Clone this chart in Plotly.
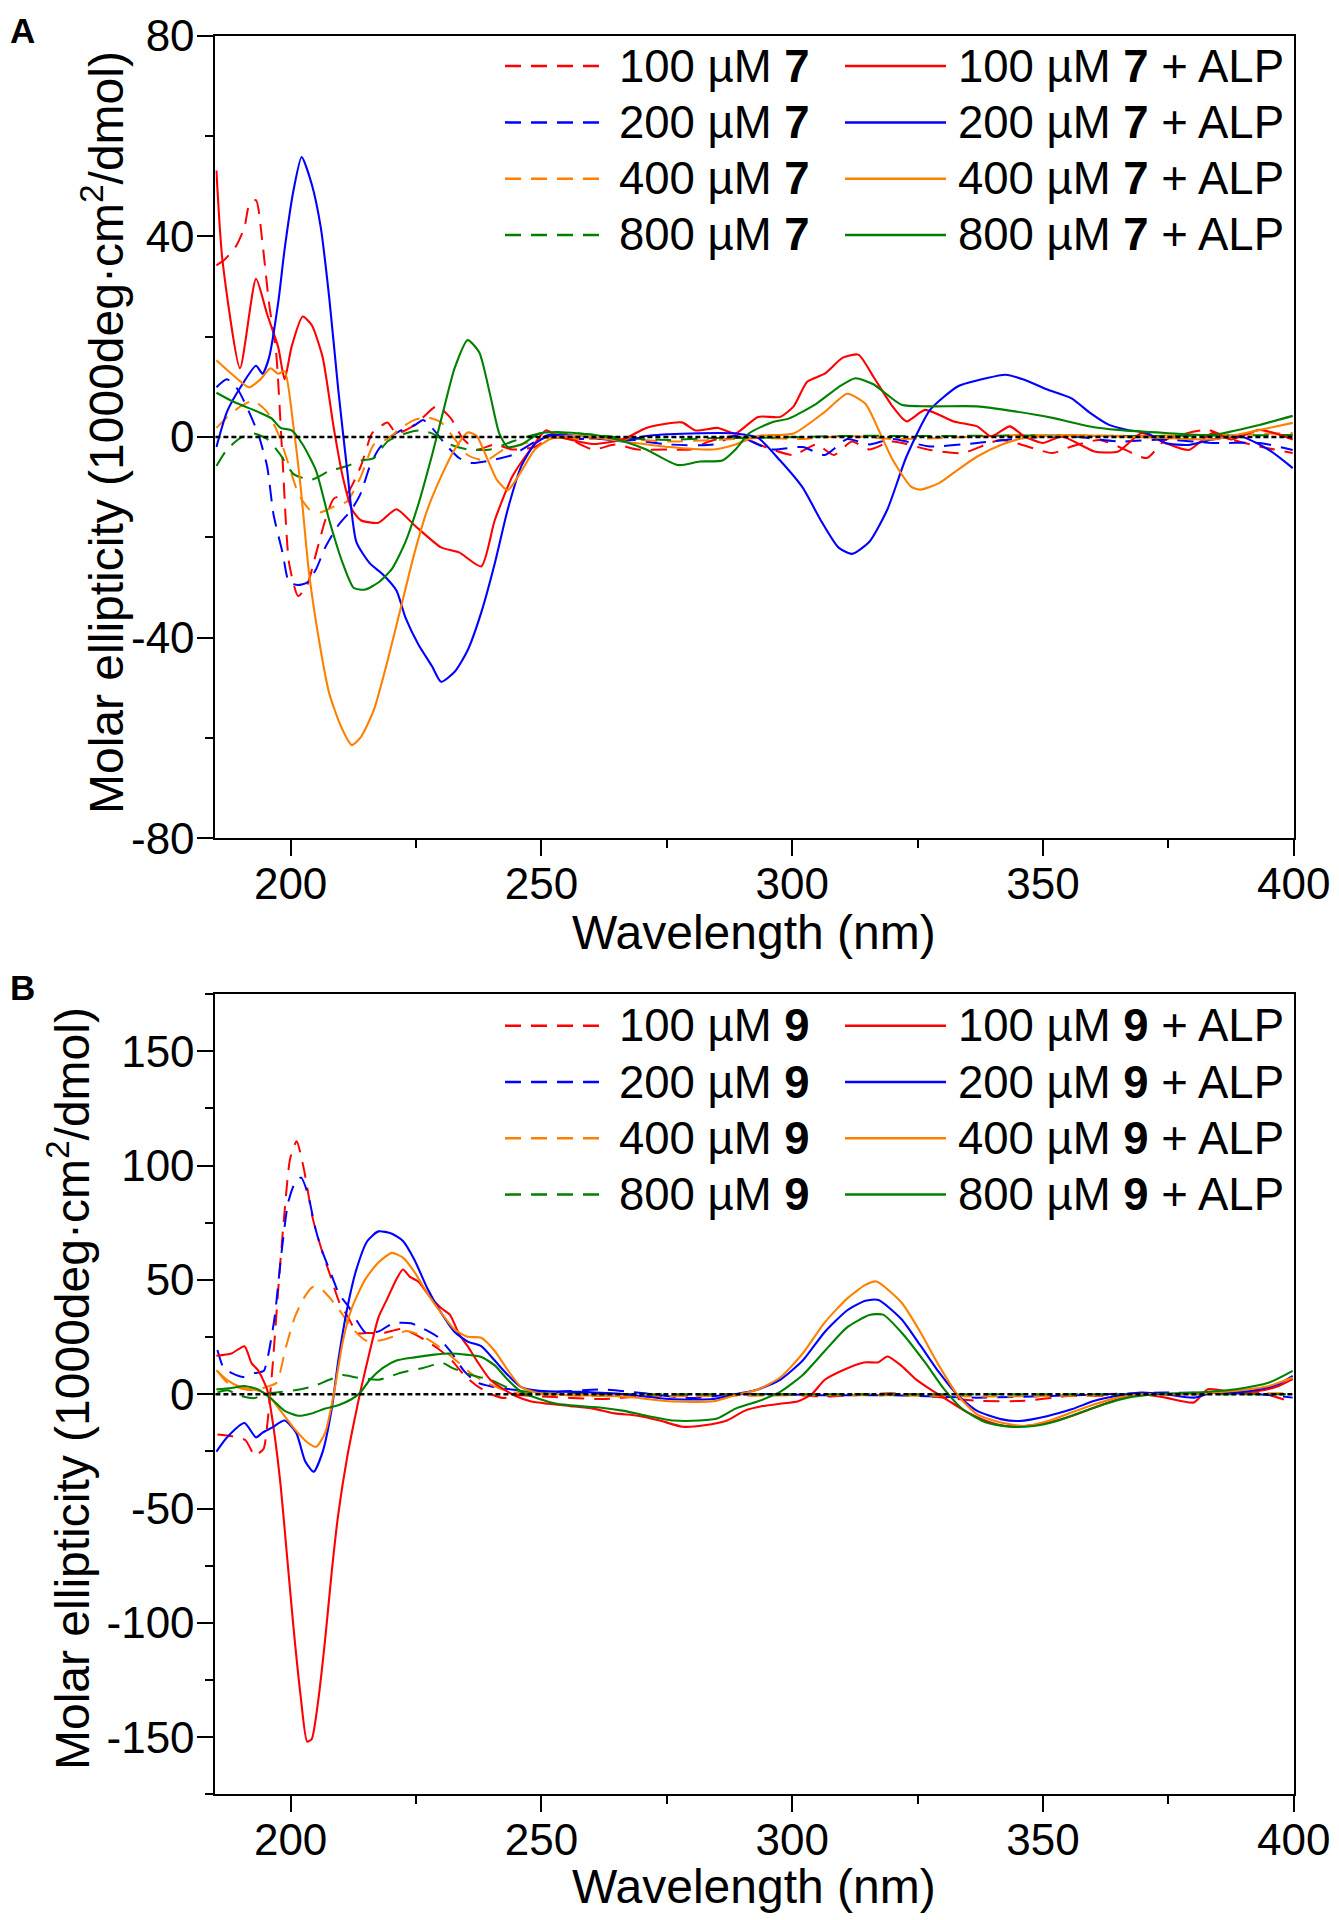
import plotly.graph_objects as go

# ---------------- DATA ----------------
# Panel A : compound 7
a7_100_x = [185.2,186.8,189.1,190.8,191.7,193.1,194.4,195.7,197.1,198.4,199.7,201.5,203.3,205.1,206.9,208.6,211.3,214,216.2,217.5,219.3,221.1,223.8,226.4,229.1,231.8,234.4,237.1,240.7,244.2,248.7,251.4,254.9,260.3,264.7,269.2,275.4,279.8,283.4,288.7,295.9,300.3,304.8,308.3,311.9,315.4,319.9,327.5,334,341.6,351.9,355.7,361.3,365,370.7,374.4,382.9,387.6,393.2,399.8]
a7_100_y = [34.2,35.3,38,41.8,46.1,47.2,38.5,26.6,16.9,-4.7,-25.2,-31.7,-29.5,-23.1,-16.6,-12.3,-11.2,-5.8,0.7,1.8,2.9,0.7,1.8,3.9,6.1,3.9,-0.4,-2.5,-1.5,-2.5,-2,-0.4,-0.2,-2.5,-1.5,-2.5,-2.5,-2.5,-0.9,0.2,-2.5,-3.6,-1.5,-3.6,-0.9,-2.5,-0.9,-2.6,-3.2,-0.6,-3.2,-1.9,-0.6,-1.9,-4.2,-0.6,1.4,-0.5,-1.9,-3.2]

a7_200_x = [185.2,187.3,189.5,191.7,193.5,195.3,196.6,198.4,199.7,201.5,203.3,205.1,206.9,209.5,212.2,214,215.8,217.5,219.3,222,224.7,226.4,228.2,230.9,233.6,236.2,239.8,244.2,247.8,251.4,257.6,266.5,275.4,284.3,288.7,295.9,302.1,306.5,311,315.4,319.9,327.5,336.9,346.3,355.7,365,374.4,383.8,393.2,399.8]
a7_200_y = [9.9,11.5,9.4,5,0.7,-5.8,-15.5,-23.1,-29,-29.5,-29,-26.3,-22,-17.6,-14.4,-11.2,-5.8,-2.5,-0.4,1.3,2.3,3.4,1.8,-1.5,-4.2,-5.2,-4.7,-3.6,-1.5,0.4,-0.4,-0.4,-1.5,-1.5,0.2,-2.5,-2,-3.6,-0.4,-1.5,-0.4,-1.9,-1.2,-0.2,0.1,-0.9,-0.5,-1.2,-1.2,-2.6]

a7_400_x = [185.2,187.3,190,192.6,195.3,197.5,199.7,201.5,203.7,206,208.6,211.3,214,216.6,219.3,222,224.7,227.3,230,232.7,235.3,238.9,242.5,246,250.5,257.6,266.5,275.4,284.3,293.2,302.1,311,319.9,330,346,360,375,390,399.8]
a7_400_y = [1.8,3.9,6.1,7.2,5,0.7,-5.8,-11.2,-14.4,-15,-13.9,-12.8,-7.9,-1.5,-0.4,1.8,3.4,3.9,2.9,-0.4,-3.6,-4.7,-2.5,-1.5,-0.2,-0.4,-0.4,-0.9,-0.6,-0.2,-0.4,0.2,-0.4,-0.2,0.4,0.2,0.3,0.5,0.8]

a7_800_x = [185.2,187.3,190,192.6,195.3,198,200.6,204.2,207.7,211.3,214,216.6,219.3,222.9,225.5,228.2,231.8,235.3,239.8,244.2,249.6,257.6,266.5,275.4,284.3,293.2,310,330,350,370,390,399.8]
a7_800_y = [-5.8,-2.5,-0.2,0.7,-0.4,-3.6,-7.4,-8.5,-6.8,-5.8,-4.7,-4.2,-0.9,0.7,1.3,0.7,-1.5,-2.5,-2.5,-0.9,0.7,0.7,-0.2,-0.6,-0.2,-0.2,0.2,0.2,0.3,0.2,0.3,0.4]

a7_100alp_x = [185.2,186.4,189.9,193.1,195.3,197.5,198.8,200.2,202.4,204.2,206.4,208.6,210.4,212.2,214,217.5,221.1,224.7,230,233.6,238,240.7,244.2,247.8,250.9,253.1,260.3,266.5,270.9,278,280.7,285.2,288.7,293.2,297.6,300.3,303,306.5,310.1,313.2,316.2,320,322.8,326.5,332.2,336.9,339.7,343.4,346.3,350,353.8,360.3,365,369.7,374.4,379.1,383.8,387.6,393.2,399.8]
a7_100alp_y = [53.1,35.3,13.7,31.5,24.5,18,11.5,18,24,22.3,15.8,1.8,-8,-14.4,-16.6,-17.1,-14.4,-17.6,-22,-23,-25.8,-16.6,-7.9,-2.5,1.3,0.2,-1.4,-0.4,1.8,2.9,1.3,1.8,0.7,4,4,6.1,11,12.6,15.8,16.4,12,6.1,3.1,5.4,3.1,2.1,0.1,2.1,0.1,-1.2,0.1,-2.9,-2.9,0.8,-1.2,-2.6,0.8,-0.5,1.4,-0.5]

a7_200alp_x = [185.2,187.3,190,193.1,194.4,195.7,197.5,198.8,200.6,202.2,204.2,206,207.7,209.5,211.3,213.1,215.8,218.4,221.1,222.9,225.5,228.2,230,232.7,235.3,238,240.7,243.3,246,248.7,251.4,257.6,262,266.5,270.9,279.8,288.7,293.2,297.6,302.1,305.7,309.2,311.9,315.4,319,322.8,327.5,333.1,338.7,342.5,346.3,351,355.7,359.4,363.2,366.9,370.7,374.4,379.1,383.8,389.5,395.1,399.8]
a7_200alp_y = [-2,5,9.9,14.2,12.6,15.8,26.6,37.4,49.3,55.8,50.4,41.8,27.7,9.4,-6.8,-20.9,-25.2,-27.4,-30.6,-36,-41.4,-45.7,-48.8,-46.8,-42.5,-35,-25.2,-14.4,-5.8,-1.4,0.2,0.2,-0.4,-0.9,0.2,0.7,0.7,-0.2,-4.7,-10.1,-16.6,-22,-23.3,-20.9,-14.4,-3.9,5.4,10.1,11.7,12.4,11.4,9.4,7.7,4.8,2.4,1.4,0.8,-1.2,-1.6,-0.5,0.1,-2.6,-6.2]

a7_400alp_x = [185.2,188.2,191.7,194,196,197.5,198.8,200.6,202,203.7,206,207.7,210,212.2,214,216.6,219.3,222,224.7,227.3,230,232.7,235.3,237.1,238.9,241.1,243.3,246,248.7,252.2,257.6,266.5,275.4,284.3,288.7,293.2,300.3,306.5,311,314.6,317.2,320,323.7,325.6,329.3,333.1,336.9,341.6,346.3,355.7,365,374.4,383.8,388.5,393.2,399.8]
a7_400alp_y = [15.3,12.6,9.9,11.5,13.7,12.6,13.1,1.8,-10,-27.4,-42.5,-51.1,-57.6,-61.4,-59.8,-54.4,-44.7,-33.9,-23.1,-14.4,-7.9,-2.5,0.9,0.2,-3.6,-8.5,-10.6,-6.8,-2.5,-0.2,0.2,-0.9,-2,-2.5,-1.5,0.2,0.7,5,8.6,6.6,1.5,-4.5,-9.9,-10.5,-9.2,-6.5,-3.9,-1.6,-0.2,0.4,0.1,-0.2,-0.5,0.4,1.4,2.8]

a7_800alp_x = [185.2,188.2,190.8,193.5,196.2,198,200.2,202.4,205.1,207.7,210.4,212.6,214.9,217.5,220.2,222.9,225.5,228.2,230.4,232.7,235.3,237.6,239.8,241.6,243.3,246,249.6,253.1,257.6,262,266.5,270.9,277.2,281.6,286.1,288.7,291.4,295.9,299.4,304.8,309.2,312.6,316.2,321.8,327.5,336.9,344.4,351.9,359.4,365,374.4,383.8,393.2,399.8]
a7_800alp_y = [8.8,7.2,6.1,5,3.7,1.8,1.3,-1.5,-6.8,-16.6,-25.2,-30.1,-30.4,-29,-26.3,-20.9,-13.3,-3.6,5,13.7,19.3,16.9,8.3,0.7,-2,-1.5,0.7,1,0.7,0.2,-0.9,-2.5,-5.6,-4.9,-4.7,-2.5,0.7,2.9,3.7,6.6,9.9,11.7,10.5,6.4,6.1,6.1,5.1,3.8,2.1,1.4,0.8,0.4,2.4,4.2]

# Panel B : compound 9
b9_100_x = [185.4,188.3,191,192.8,193.5,194.6,195.5,196.5,197.5,198.6,199.9,201.2,202.6,204.4,206.1,207.9,209.7,211.5,213.3,215.9,218.6,222.2,225.7,229.3,232,234.6,237.3,240,242.6,244.2,250,262,270,280,290,297.6,306.5,319.9,328,336.9,346.3,355.7,365,374.4,383.8,393.2,399.8]
b9_100_y = [-17.6,-18.4,-20.1,-26.8,-26,-24,-10,15,45,75,103,110.6,98.9,77,63.7,51.9,40.2,33.5,26.8,26.8,26.8,28.5,25.1,20.1,15.1,8.4,3.4,0,-1.7,-0.4,-1,-2.1,-1,-0.5,0,0,-1,0.4,-1,-2.9,-2.9,-0.7,-0.7,0,0.7,0.7,-3.6]

b9_200_x = [185.4,186.6,188.3,190.6,192.8,194.6,195.5,196.8,198.1,199.5,200.8,202.1,203.5,204.8,206.1,207.9,209.7,211.5,213.3,215,217.7,220.4,224,226.6,229.3,232,234.6,237.3,240,242.6,245.3,253.1,262,270,279.8,288.7,297.6,306.5,319.9,336.9,355.7,374.4,393.2,399.8]
b9_200_y = [19.3,11.7,9.2,7.5,9.2,10.1,16.8,33.5,60.3,83.8,92.2,94.7,87.1,73.7,63.7,53.6,43.6,38.5,31.8,26.8,27.6,31,31,28.5,25.1,18.4,10.1,5,3.4,2.5,1.7,1,2.1,0.5,-1.7,0,0,-0.5,-0.5,-1.5,-0.5,0.7,0,-1.5]

b9_400_x = [185.4,187.4,190.1,192.8,195.5,197.2,199,200.8,202.6,204.4,206.1,207.9,209.7,212.4,215,217.7,220.4,223,225.7,228.4,231,233.7,236.4,239.1,241.7,244.4,255,270,285,300,320,340,360,380,399.8]
b9_400_y = [10.1,5,2.5,1.7,3.4,5,20.1,33.5,41.9,46.9,46.1,41.9,36.9,28.5,23.5,23.5,25.1,27.6,26,22.6,18.4,13.4,8.4,5,2.5,0.8,-0.5,-1,-0.8,-0.5,-0.5,-1,-0.5,0,0.5]

b9_800_x = [185.4,187.4,190.1,192.8,194.6,197.2,200.8,204.4,207.7,210.4,213.1,217.5,222,226.4,230.4,232.2,236,239.8,244.2,250,270,300,330,360,399.8]
b9_800_y = [0.8,1.7,-0.8,-1.7,0,0.8,1.7,3.4,6.3,8.4,7.3,6.3,9.4,11.5,13.6,11.5,8.4,6.3,2.1,0.5,0,0,0,0,0]

b9_100alp_x = [185.2,188.2,190.8,192.2,193.5,195.3,196.6,198,199.3,200.6,202,203.3,204.2,205.5,206.9,208.2,209.5,211.3,212.6,214,215.8,217.5,219.3,221.1,222.4,223.8,225.5,227.3,230,231.8,233.6,235.3,237.1,239.8,242.5,245.1,247.8,251.4,255.8,260.3,264.7,269.2,273.6,278.1,282.5,287,290.5,294.1,297.6,301.2,303.9,306.5,310.1,314.3,317.2,319,321.8,324.6,327.5,331.2,335,338.7,342.5,346.3,351,355.7,360.3,365,369.7,374.4,380.1,382.9,388.5,393.2,397,399.8]
b9_100alp_y = [16.8,17.8,21,13.6,10.5,2.1,-14.7,-39.8,-71.2,-102.7,-132,-151.9,-150.8,-134,-106.8,-77.5,-52.4,-27.2,-12.6,2.1,18.9,33.5,41.9,50.3,54.5,51.3,49.2,44,37.7,34.6,26.2,21,14.7,6.3,2.1,-1,-3.1,-4.2,-5.2,-6.3,-8.4,-9.4,-11.5,-14.2,-13.6,-11.5,-7.3,-5.2,-4.2,-3.1,0,6.3,10.5,13.9,14,16.5,12.4,6.6,2.2,-2.9,-8,-11.7,-13.9,-13.9,-12.4,-9.5,-5.8,-2.2,0,-1.5,-3.6,2.2,0.7,1.5,3.6,6.6]

b9_200alp_x = [185.2,187.3,190.8,193.1,194.4,196.2,198.8,201.1,202.9,204.6,206.4,208.2,209.5,211.3,213.1,215.3,217.5,220.2,222.4,224.7,227.3,230,232.7,235.3,238,240.7,243.3,246,249.6,257.6,266.5,275.4,284.3,288.7,293.2,297.6,302.1,306.5,311,314.6,317.2,321.8,325.6,329.3,333.1,336.9,341.6,345.3,351,355.7,360.3,365,369.7,374.4,380.1,383.8,388.5,393.2,397,399.8]
b9_200alp_y = [-25.1,-18.9,-12.6,-18.9,-16.8,-14.7,-11.5,-16.8,-29.3,-33.9,-25.1,-6.3,14.7,37.7,54.5,67,71.2,70.2,67,58.7,46.1,35.6,27.2,23,21,14.7,8.4,3.1,1.5,1,0,-2.1,-2.1,0,2.1,6.3,14.7,27.2,36.7,40.9,41.2,32.8,21.2,9.5,-0.7,-7.3,-10.9,-11.7,-9.5,-6.6,-2.9,-0.7,0.7,0,-1.5,0.7,0.7,2.2,4.4,8]

b9_400alp_x = [185.2,187.3,190,192.6,195.3,198,200.6,203.3,205.1,206.9,208.6,210.4,212.2,214.9,217.5,220.2,222.4,224.7,227.3,230,232.7,235.3,238,240.7,243.3,246,249.6,257.6,266.5,275.4,284.3,288.7,293.2,297.6,302.1,306.5,311,314.6,316.8,321.8,325.6,329.3,333.1,336.9,341.6,346.3,351,355.7,360.3,365,369.7,379.1,388.5,395.1,399.8]
b9_400alp_y = [10.5,6.3,3.1,2.1,0,-7.3,-14.7,-21,-23,-16.8,0,23,37.7,50.3,57.6,61.8,59.7,53.4,44,35.6,28.3,25.1,24.7,18.9,10.5,3.1,0.4,-0.4,-1,-3.1,-3.1,-0.4,2.1,7.3,17.8,31.4,41.9,47.8,49.3,40.1,27,12.4,-0.7,-8.8,-12.4,-13.9,-11.7,-8,-4.4,-1.5,0,0,1.5,3.6,7.3]

b9_800alp_x = [185.2,188.2,190.8,193.5,196.2,198.8,201.5,204.2,206.9,209.5,212.2,214,215.8,218.4,221.1,224.7,228.2,231.8,235.3,238,240.7,243.3,246,249.6,253.1,257.6,262,266.5,270.9,276.3,281.6,285.2,288.7,293.2,297.6,302.1,306.5,311,315.4,318.1,321.8,326.5,330.3,334,338.7,343.4,348.1,352.8,357.5,362.2,366.9,372.6,380.1,388.5,395.1,399.8]
b9_800alp_y = [2.1,2.7,3.6,2.1,-2.1,-7.3,-9.4,-8.4,-6.3,-4.8,-2.1,1,6.3,11.5,14.7,16.1,17.2,17.8,17.2,16.3,12.6,6.3,1,-2.1,-4.2,-5.2,-5.9,-7.3,-9.4,-11.5,-11.5,-10.5,-6.3,-3.1,1,8.4,18.9,29.3,34.6,34.8,27,13.9,2.2,-6.6,-12.4,-14.2,-13.9,-11.7,-8,-4.4,-1.5,0,0.7,2.2,5.1,10.2]

# Tick values and labels
x_ticks = [200, 250, 300, 350, 400]
x_ticklabels = ["200", "250", "300", "350", "400"]
a_yticks = [-80, -40, 0, 40, 80]
a_yticklabels = ["-80", "-40", "0", "40", "80"]
b_yticks = [-150, -100, -50, 0, 50, 100, 150]
b_yticklabels = ["-150", "-100", "-50", "0", "50", "100", "150"]

concentrations = ["100", "200", "400", "800"]

# ---------------- STYLE ----------------
COLORS = ["#FF0000", "#0000FF", "#FF8000", "#008000"]
DASH = "16px,10px"
FONT = "Liberation Sans, Arial, sans-serif"
OFF = 8            # page body margin offset
W, H = 1325, 1912

def px_x(p):
    return (p - OFF) / W

def px_y(p):
    return 1 - (p - OFF) / H

XD = [px_x(215.4), px_x(1293.7)]
A_DOM = [px_y(838.4), px_y(35.5)]
B_DOM = [px_y(1794.4), px_y(994.0)]

fig = go.Figure()

panelA_dashed = [(a7_100_x, a7_100_y), (a7_200_x, a7_200_y), (a7_400_x, a7_400_y), (a7_800_x, a7_800_y)]
panelA_solid = [(a7_100alp_x, a7_100alp_y), (a7_200alp_x, a7_200alp_y), (a7_400alp_x, a7_400alp_y), (a7_800alp_x, a7_800alp_y)]
panelB_dashed = [(b9_100_x, b9_100_y), (b9_200_x, b9_200_y), (b9_400_x, b9_400_y), (b9_800_x, b9_800_y)]
panelB_solid = [(b9_100alp_x, b9_100alp_y), (b9_200alp_x, b9_200alp_y), (b9_400alp_x, b9_400alp_y), (b9_800alp_x, b9_800alp_y)]

def add_panel(dashed, solid, cmpd, xa, ya):
    for i, (x, y) in enumerate(dashed):
        fig.add_trace(go.Scatter(x=x, y=y, mode="lines", xaxis=xa, yaxis=ya,
                                 name=f"{concentrations[i]} µM {cmpd}", showlegend=False,
                                 line=dict(color=COLORS[i], width=2, dash=DASH,
                                           shape="spline", smoothing=0.6)))
    for i, (x, y) in enumerate(solid):
        fig.add_trace(go.Scatter(x=x, y=y, mode="lines", xaxis=xa, yaxis=ya,
                                 name=f"{concentrations[i]} µM {cmpd} + ALP", showlegend=False,
                                 line=dict(color=COLORS[i], width=2.1, shape="spline", smoothing=0.6)))

add_panel(panelA_dashed, panelA_solid, "7", "x", "y")
add_panel(panelB_dashed, panelB_solid, "9", "x2", "y2")

tickfont = dict(family=FONT, size=44, color="black")
common_x = dict(range=[185, 400], tickvals=x_ticks, ticktext=x_ticklabels, ticks="outside",
                ticklen=16, tickwidth=2, tickcolor="black", showline=True, linewidth=2,
                linecolor="black", mirror=True, showgrid=False, zeroline=False,
                tickfont=tickfont, domain=XD, automargin=False, ticklabelstandoff=-10,
                minor=dict(dtick=25, tick0=0, ticks="outside", ticklen=8, tickwidth=2, tickcolor="black"))
common_y = dict(ticks="outside", ticklen=16, tickwidth=2, tickcolor="black", showline=True,
                linewidth=2, linecolor="black", mirror=True, showgrid=False, zeroline=False,
                tickfont=tickfont, automargin=False, ticklabelstandoff=-6)

fig.update_layout(
    width=W, height=H, paper_bgcolor="white", plot_bgcolor="white",
    margin=dict(l=0, r=0, t=0, b=0, autoexpand=False), showlegend=False,
    font=dict(family=FONT, color="black"),
    xaxis=dict(common_x, anchor="y"),
    yaxis=dict(common_y, range=[-80, 80], tickvals=a_yticks, ticktext=a_yticklabels, domain=A_DOM, anchor="x",
               minor=dict(dtick=20, tick0=0, ticks="outside", ticklen=8, tickwidth=2, tickcolor="black")),
    xaxis2=dict(common_x, anchor="y2"),
    yaxis2=dict(common_y, range=[-175, 175], tickvals=b_yticks, ticktext=b_yticklabels, domain=B_DOM, anchor="x2",
                minor=dict(dtick=25, tick0=0, ticks="outside", ticklen=8, tickwidth=2, tickcolor="black")),
)

# zero reference lines (dotted)
for xr, yr in [("x domain", "y"), ("x2 domain", "y2")]:
    fig.add_shape(type="line", xref=xr, yref=yr, x0=0, x1=1, y0=0, y1=0,
                  line=dict(color="black", width=2.5, dash="5px,3px"), layer="above")

ann = []
xtitle_font = dict(family=FONT, size=48, color="black")
ytitle_font = dict(family=FONT, size=48, color="black")
ytitle = "Molar ellipticity (1000deg·cm<sup>2</sup>/dmol)"
# axis titles
ann.append(dict(text="Wavelength (nm)", x=px_x(754), y=px_y(933), xref="paper", yref="paper",
                showarrow=False, font=xtitle_font, xanchor="center", yanchor="middle"))
ann.append(dict(text="Wavelength (nm)", x=px_x(754), y=px_y(1886), xref="paper", yref="paper",
                showarrow=False, font=xtitle_font, xanchor="center", yanchor="middle"))
ann.append(dict(text=ytitle, x=px_x(103), y=px_y(433), xref="paper", yref="paper", textangle=-90,
                showarrow=False, font=ytitle_font, xanchor="center", yanchor="middle"))
ann.append(dict(text=ytitle, x=px_x(69), y=px_y(1389), xref="paper", yref="paper", textangle=-90,
                showarrow=False, font=ytitle_font, xanchor="center", yanchor="middle"))
# panel letters
ann.append(dict(text="<b>A</b>", x=px_x(22), y=px_y(9), xref="paper", yref="paper",
                showarrow=False, font=dict(family=FONT, size=35, color="black"), xanchor="center", yanchor="top"))
ann.append(dict(text="<b>B</b>", x=px_x(22), y=px_y(966), xref="paper", yref="paper",
                showarrow=False, font=dict(family=FONT, size=35, color="black"), xanchor="center", yanchor="top"))

# manual two-column legends
leg_font = dict(family=FONT, size=45.5, color="black")
for cmpd, rows in [("7", [66, 122.4, 178.7, 235]), ("9", [1025.7, 1082, 1138.3, 1194.6])]:
    for i, ry in enumerate(rows):
        fig.add_shape(type="line", xref="paper", yref="paper", x0=px_x(505), x1=px_x(602),
                      y0=px_y(ry), y1=px_y(ry), line=dict(color=COLORS[i], width=2.5, dash=DASH))
        fig.add_shape(type="line", xref="paper", yref="paper", x0=px_x(845), x1=px_x(946),
                      y0=px_y(ry), y1=px_y(ry), line=dict(color=COLORS[i], width=2.5))
        ann.append(dict(text=f"{concentrations[i]} µM <b>{cmpd}</b>", x=px_x(617), y=px_y(ry),
                        xref="paper", yref="paper", showarrow=False, font=leg_font,
                        xanchor="left", yanchor="middle"))
        ann.append(dict(text=f"{concentrations[i]} µM <b>{cmpd}</b> + ALP", x=px_x(956), y=px_y(ry),
                        xref="paper", yref="paper", showarrow=False, font=leg_font,
                        xanchor="left", yanchor="middle"))

fig.update_layout(annotations=ann)
fig.write_html("out.html")
